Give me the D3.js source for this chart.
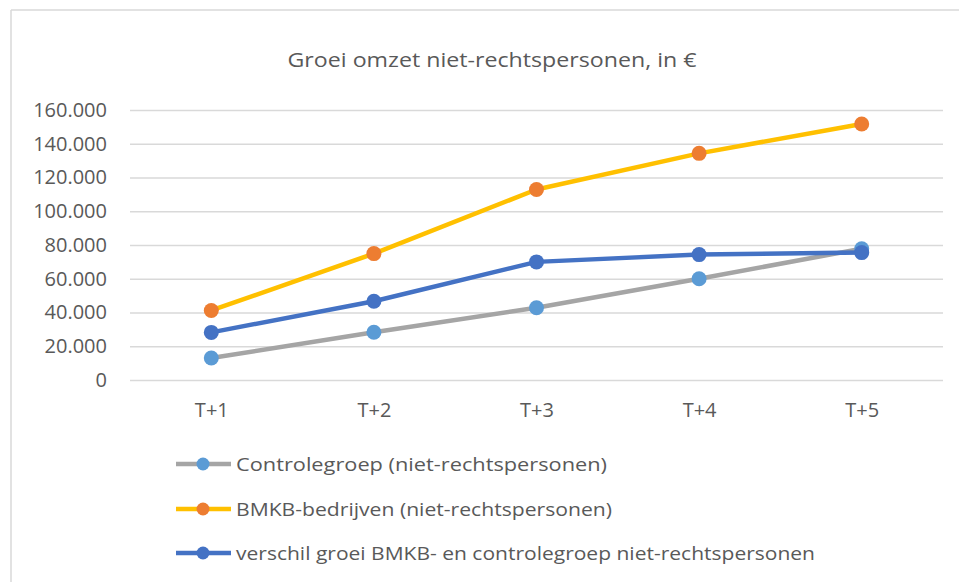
<!DOCTYPE html>
<html><head><meta charset="utf-8">
<script src="https://cdn.jsdelivr.net/npm/d3@7"></script>
<style>body{margin:0;background:#fff;}svg{display:block;font-family:"Open Sans",sans-serif;}</style>
</head><body><svg id="c" width="959" height="582"></svg>
<script>
const categories = ["T+1","T+2","T+3","T+4","T+5"];
const controlegroep = [13000, 28300, 42800, 60000, 77800];
const bmkb = [41200, 74900, 112900, 134300, 151700];
const verschil = [28200, 46700, 70000, 74300, 75500];
const yTicks = [0,20000,40000,60000,80000,100000,120000,140000,160000];
const seriesNames = ["Controlegroep (niet-rechtspersonen)","BMKB-bedrijven (niet-rechtspersonen)","verschil groei BMKB- en controlegroep niet-rechtspersonen"];
const title = "Groei omzet niet-rechtspersonen, in €";

const series = [
  {name: seriesNames[0], values: controlegroep, line: "#A5A5A5", marker: "#5B9BD5", tl: 371},
  {name: seriesNames[1], values: bmkb, line: "#FFC000", marker: "#ED7D31", tl: 376},
  {name: seriesNames[2], values: verschil, line: "#4472C4", marker: "#4472C4", tl: 579}
];

const svg = d3.select("#c");
// chart border
svg.append("line").attr("x1",11).attr("x2",11).attr("y1",10).attr("y2",582).attr("stroke","#D9D9D9").attr("stroke-width",1.5);
svg.append("line").attr("x1",11).attr("x2",959).attr("y1",10).attr("y2",10).attr("stroke","#D9D9D9").attr("stroke-width",1.5);

const x = d3.scalePoint().domain(categories).range([130,943]).padding(0.5);
const y = d3.scaleLinear().domain([0,160000]).range([380,110]);
const nl = d3.formatLocale({decimal:",",thousands:".",grouping:[3],currency:["€",""]});
const fmt = nl.format(",");

svg.append("text").attr("x",492).attr("y",67).attr("text-anchor","middle")
  .attr("font-size",20).attr("fill","#595959").attr("textLength",409).attr("lengthAdjust","spacingAndGlyphs").text(title);

// gridlines + y labels
const yAxis = svg.append("g").attr("transform","translate(130,0)")
  .call(d3.axisLeft(y).tickValues(yTicks).tickSize(-(943-130)).tickFormat(fmt).tickPadding(23));
yAxis.select(".domain").remove();
yAxis.selectAll(".tick line").attr("stroke","#D9D9D9").attr("stroke-width",1.3);
yAxis.selectAll(".tick text").attr("font-size",20).attr("fill","#595959").attr("font-family","Open Sans");

// x labels
const xAxis = svg.append("g").attr("transform","translate(0,380)")
  .call(d3.axisBottom(x).tickSize(0).tickPadding(23));
xAxis.select(".domain").remove();
xAxis.selectAll(".tick text").attr("font-size",20).attr("fill","#595959").attr("font-family","Open Sans");

const line = d3.line().x((d,i)=>x(categories[i])).y(d=>y(d));
series.forEach(s=>{
  svg.append("path").datum(s.values).attr("d",line).attr("fill","none")
    .attr("stroke",s.line).attr("stroke-width",4.5).attr("stroke-linejoin","round").attr("stroke-linecap","round");
  svg.selectAll(null).data(s.values).enter().append("circle")
    .attr("cx",(d,i)=>x(categories[i])).attr("cy",d=>y(d)).attr("r",7.5).attr("fill",s.marker);
});

// legend
const legY = [464, 509, 553];
series.forEach((s,i)=>{
  const g = svg.append("g").attr("transform",`translate(0,${legY[i]})`);
  g.append("line").attr("x1",176).attr("x2",231).attr("y1",0).attr("y2",0).attr("stroke",s.line).attr("stroke-width",4.5);
  g.append("circle").attr("cx",203).attr("cy",0).attr("r",6.5).attr("fill",s.marker);
  g.append("text").attr("x",236).attr("y",7).attr("font-size",19).attr("fill","#595959")
    .attr("textLength",s.tl).attr("lengthAdjust","spacingAndGlyphs").text(s.name);
});
</script></body></html>
